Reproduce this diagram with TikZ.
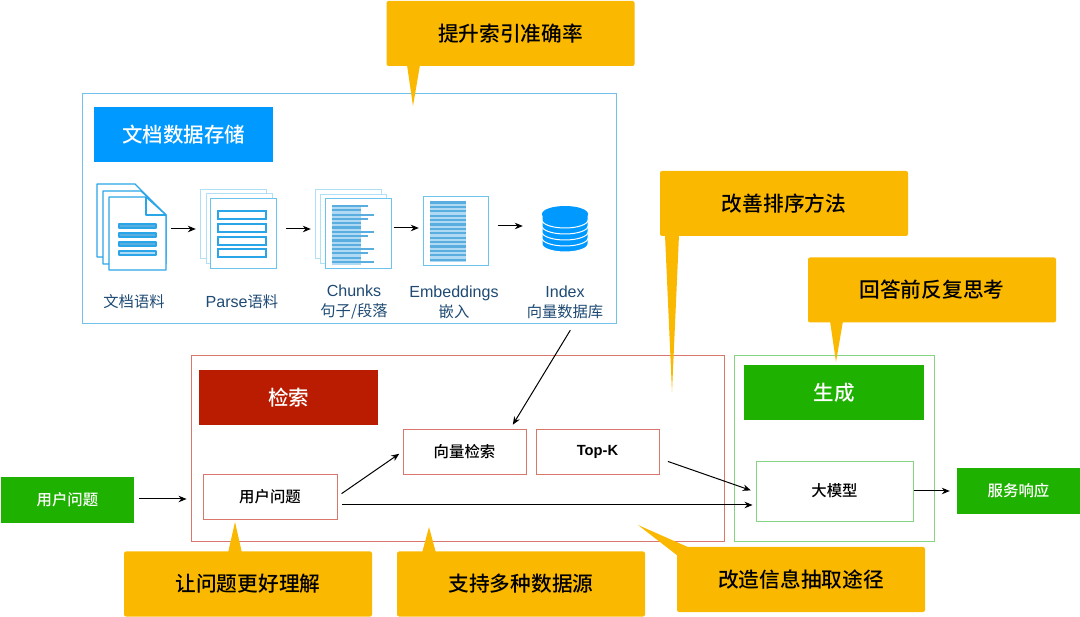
\documentclass[tikz,border=0pt]{standalone}
\usepackage{fontspec}
\setmainfont{Noto Sans CJK SC}
\newfontfamily\mediumfont{Noto Sans CJK SC Medium}
\newfontfamily\latinfont[Scale=1.05]{Liberation Sans}
\usetikzlibrary{arrows.meta}
\definecolor{docBlue}{HTML}{2AA5E8}
\definecolor{pageBlue}{HTML}{6CC4EE}
\definecolor{pageLight}{HTML}{B0E0F6}
\definecolor{stripeDark}{HTML}{5AAEDF}
\definecolor{stripeLight}{HTML}{B0DAF3}
\definecolor{frameBlue}{HTML}{72C0EC}
\definecolor{labelBlue}{HTML}{1E4A73}
\definecolor{headBlue}{HTML}{0099FF}
\definecolor{headRed}{HTML}{B91C00}
\definecolor{headGreen}{HTML}{1FB100}
\definecolor{lineRed}{HTML}{D9776C}
\definecolor{lineGreen}{HTML}{85D482}
\definecolor{noteGold}{HTML}{FAB900}
\tikzset{
  pagecard/.style={fill=white, draw=pageBlue, line width=1pt},
  headbox/.style={minimum width=179pt, minimum height=55pt, text=white, font=\fontsize{20.5}{24}\selectfont\mediumfont},
  flowbox/.style={fill=white, line width=0.9pt, font=\fontsize{15.4}{18}\selectfont\mediumfont},
  fillbox/.style={fill=headGreen, text=white, font=\fontsize{15.4}{18}\selectfont\mediumfont},
  notebox/.style={fill=noteGold, rounded corners=2pt, minimum width=248pt, minimum height=65pt, font=\fontsize{20.7}{24}\selectfont\mediumfont},
  notetail/.style={fill=noteGold},
  iconframe/.style={inner sep=0pt, minimum height=40pt},
  steplabel/.style={text=labelBlue, align=center, font=\fontsize{15.3}{20}\selectfont},
  flowarrow/.style={-{Stealth[length=8pt,width=6.5pt]}, line width=1pt, black},
}
\begin{document}
\begin{tikzpicture}[x=1pt, y=-1pt]
\useasboundingbox (0,0) rectangle (1080,617);
% Document store frame
\draw[frameBlue, line width=1pt] (82,94) rectangle (616,324);
\node[headbox, fill=headBlue] (storehead) at (183.5,135) {文档数据存储};
% Retrieval and generation frames
\draw[lineRed, line width=0.9pt] (191,355) rectangle (724,541);
\draw[lineGreen, line width=0.9pt] (734,355) rectangle (934,541);
\node[headbox, fill=headRed] (searchhead) at (288.5,397.5) {检索};
\node[headbox, fill=headGreen, minimum width=180pt] (genhead) at (834,392.5) {生成};
% Document icon
\node[iconframe, minimum width=57pt] (docs) at (137.5,229) {};
\begin{scope}[draw=docBlue, fill=white, line width=1.2pt, line join=round]
  \filldraw (97,184) -- (135,184) -- (166,215) -- (166,257) -- (97,257) -- cycle;
  \filldraw (103,191) -- (141,191) -- (166,215) -- (166,264) -- (103,264) -- cycle;
  \filldraw (109,197) -- (146,197) -- (166,215) -- (166,270) -- (109,270) -- cycle;
  \draw (146,197) -- (146,215) -- (166,215);
  \filldraw[fill=stripeDark] (119,224) rectangle (156,228);
  \filldraw[fill=stripeDark] (119,233) rectangle (156,237);
  \filldraw[fill=stripeDark] (119,242) rectangle (156,246);
  \filldraw[fill=stripeLight] (119,251) rectangle (156,255);
\end{scope}
% Parse icon
\node[iconframe, minimum width=76pt] (parse) at (238,229) {};
\draw[pagecard, draw=pageLight] (200,190) rectangle (266,259);
\draw[pagecard, draw=pageLight] (206,194) rectangle (272,264);
\draw[pagecard] (210,199) rectangle (276,269);
\begin{scope}[draw=docBlue, fill=white, line width=1.1pt]
  \filldraw (218,211) rectangle (266,219);
  \filldraw (218,224) rectangle (266,232);
  \filldraw (218,237) rectangle (266,245);
  \filldraw (218,249) rectangle (266,257);
\end{scope}
% Chunks icon
\node[iconframe, minimum width=76pt] (chunks) at (353,228) {};
\draw[pagecard, draw=pageLight] (315,190) rectangle (381,259);
\draw[pagecard, draw=pageLight] (320,195) rectangle (386,264);
\draw[pagecard] (325,199) rectangle (391,269);
\fill[stripeLight] (332,205) rectangle (361,265);
\foreach \row/\rowend in {0/368,1/361,2/374,3/368,4/361,5/361,6/374,7/368,8/361,9/361,10/374,11/368,12/361,13/374}
  \fill[stripeDark] (332,{205+\row*4.3}) rectangle (\rowend,{207.2+\row*4.3});
% Embeddings icon
\node[iconframe, minimum width=65pt] (embed) at (455.5,228) {};
\draw[pagecard] (423,197) rectangle (488,266);
\fill[stripeLight] (430,201) rectangle (466,262);
\foreach \row in {0,...,13}
  \fill[stripeDark] (430,{201.5+\row*4.4}) rectangle (466,{203.7+\row*4.4});
% Database icon
\node[iconframe, minimum width=46pt] (index) at (565,226) {};
\begin{scope}[fill=headBlue, draw=white, line width=1pt]
  \foreach \disc in {4,3,2,1,0}
    \filldraw (542,{214+\disc*6}) -- (542,{220+\disc*6}) arc[start angle=180, end angle=360, x radius=23pt, y radius=8pt] -- (588,{214+\disc*6}) -- cycle;
  \fill (565,214) ellipse[x radius=23pt, y radius=8pt];
\end{scope}
% Step labels
\node[steplabel] (doclabel) at (134,301.5) {文档语料};
\node[steplabel] (parselabel) at (242,301.5) {{\latinfont Parse}语料};
\node[steplabel] (chunklabel) at (354,302.5) {{\latinfont Chunks}\\句子/段落};
\node[steplabel] (embedlabel) at (454,302.5) {{\latinfont Embeddings}\\嵌入};
\node[steplabel] (indexlabel) at (565,302.5) {{\latinfont Index}\\向量数据库};
% Flow boxes
\node[fillbox, minimum width=133pt, minimum height=46pt] (userin) at (67.5,500) {用户问题};
\node[flowbox, draw=lineRed, minimum width=134pt, minimum height=45pt] (query) at (270,496.5) {用户问题};
\node[flowbox, draw=lineRed, minimum width=123pt, minimum height=45pt] (vector) at (464.5,451.5) {向量检索};
\node[flowbox, draw=lineRed, minimum width=123pt, minimum height=45pt] (topk) at (597.5,451.5) {{\latinfont\bfseries\fontsize{14}{18}\selectfont Top-K}};
\node[flowbox, draw=lineGreen, minimum width=157pt, minimum height=60pt] (llm) at (834.5,491) {大模型};
\node[fillbox, minimum width=123pt, minimum height=46pt] (reply) at (1018.5,491) {服务响应};
% Pipeline arrows
\draw[flowarrow, shorten <=5pt, shorten >=4pt] (docs.east) -- (parse.west);
\draw[flowarrow, shorten <=10pt, shorten >=4pt] (parse.east) -- (parse.east -| chunks.west);
\draw[flowarrow, shorten <=3pt, shorten >=4pt] (chunks.east) -- (embed.west);
\draw[flowarrow, shorten <=10pt, shorten >=19pt] (embed.east |- index.west) -- (index.west);
% Question flow arrows
\draw[flowarrow, shorten <=5pt, shorten >=16pt] ([yshift=1pt]userin.east) -- ([yshift=1pt]query.west |- userin.east);
\draw[flowarrow, shorten <=5pt, shorten >=4pt] (query.east) -- (vector.west);
\draw[flowarrow, shorten <=5pt, shorten >=3pt] ([yshift=-8.5pt]query.east) -- ([yshift=-8.5pt]query.east -| llm.west);
\draw[flowarrow, shorten <=9pt, shorten >=5pt] ([yshift=-7pt]topk.east) -- ([yshift=-1pt]llm.west);
\draw[flowarrow, shorten <=1pt, shorten >=7pt] (reply.west -| llm.east) -- (reply.west);
\draw[flowarrow, shorten <=9pt, shorten >=4.5pt] ([xshift=10pt]indexlabel.south) -- ([xshift=46pt]vector.north);
% Yellow notes
\node[notebox] (noteindex) at (510.5,33.5) {提升索引准确率};
\fill[notetail] (407,65) -- (420,65) -- (413,106) -- cycle;
\node[notebox] (noterank) at (784,203.5) {改善排序方法};
\fill[notetail] (665,235) -- (679,235) -- (672,392) -- cycle;
\node[notebox] (notethink) at (932,290) {回答前反复思考};
\fill[notetail] (830,321) -- (843,321) -- (836,362) -- cycle;
\node[notebox] (notequery) at (248,584) {让问题更好理解};
\fill[notetail] (228,553) -- (242,553) -- (235,522) -- cycle;
\node[notebox] (notesource) at (521,584) {支持多种数据源};
\fill[notetail] (422,553) -- (436,553) -- (429,527) -- cycle;
\node[notebox] (noteextract) at (801,579.5) {改造信息抽取途径};
\fill[notetail] (678,556) -- (638,525) -- (690,548) -- cycle;
\end{tikzpicture}
\end{document}
